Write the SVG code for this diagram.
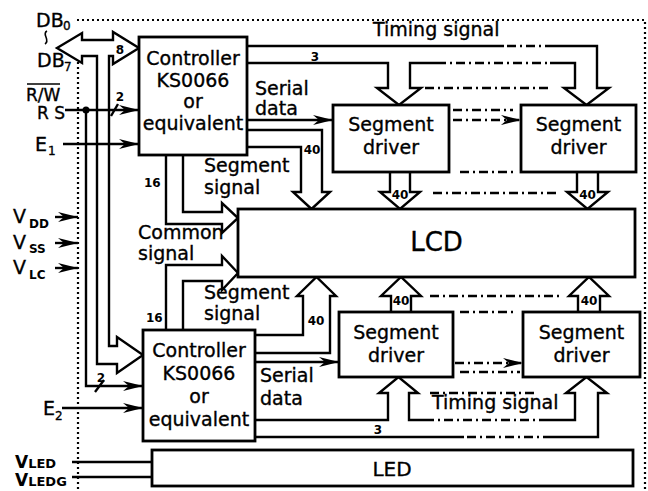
<svg xmlns="http://www.w3.org/2000/svg" width="648" height="491" viewBox="0 0 648 491">
<defs>
<style>
.box{fill:#fff;stroke:#000;stroke-width:2.8}
.ln{fill:none;stroke:#000;stroke-width:2.4}
.dd{fill:none;stroke:#000;stroke-width:2.4;stroke-dasharray:9 4 2 4}
.dot{fill:none;stroke:#000;stroke-width:2.2;stroke-dasharray:2 3}
text{font-family:"DejaVu Sans","Liberation Sans",sans-serif;font-size:19px;fill:#000;stroke:#000;stroke-width:0.35}
.c{text-anchor:middle}
.n{font-size:12px;font-weight:bold;stroke-width:0}
.s{font-size:12px}
</style>
<marker id="ah" viewBox="0 0 20 10" refX="20" refY="5" markerWidth="20" markerHeight="10" markerUnits="userSpaceOnUse" orient="auto"><path d="M0,0 L20,5 L0,10 L6,5 z" fill="#000"/></marker>
</defs>
<rect width="648" height="491" fill="#fff"/>
<g id="frame">
<path class="dot" d="M77,20 H645 V491"/>
<path class="dot" d="M78,62 V491"/>
</g>
<g id="connectors">
<path class="ln" d="M57,48 L82,33 V40 H113 V32 L139,48 L113,64 V56 H109 V346 H117 V337 L143,355 L117,373 V364 H97 V56 H82 V63 Z"/>
<path class="ln" d="M65,110 H139" marker-end="url(#ah)"/>
<circle cx="86" cy="110" r="3.5" fill="#000"/>
<path class="ln" d="M86,110 V386 H143" marker-end="url(#ah)"/>
<path class="ln" d="M111,116 L118,104"/>
<path class="ln" d="M95,392 L104,380"/>
<path class="ln" d="M63,144 H139" marker-end="url(#ah)"/>
<path class="ln" d="M62,408 H143" marker-end="url(#ah)"/>
<path class="ln" d="M55,217 H78" marker-end="url(#ah)"/>
<path class="ln" d="M55,243 H78" marker-end="url(#ah)"/>
<path class="ln" d="M55,268 H78" marker-end="url(#ah)"/>
<path class="ln" d="M72,462 H152"/>
<path class="ln" d="M72,477 H152"/>
<path class="ln" d="M247,46 H504"/>
<path class="dd" d="M507,46 H550"/>
<path class="ln" d="M550,46 H597 V88 H609 L586.5,105 L564,88 H575 V63 H550"/>
<path class="dd" d="M437,63 H550"/>
<path class="ln" d="M247,63 H388 V88 H377 L399,105 L421,88 H410 V63 H437"/>
<path class="dd" d="M425,88 H552"/>
<path class="ln" d="M247,120 H333" marker-end="url(#ah)"/>
<path class="dd" d="M453,110 H513"/>
<path class="dd" d="M453,120 H521" marker-end="url(#ah)"/>
<path class="dd" d="M460,172 H513"/>
<path class="ln" d="M247,130 H322 V192 H330 L311.5,209 L293,192 H301 V147 H247"/>
<path class="ln" d="M166,155 V224 H222 V233 L238,218 L222,203 V212 H183 V155"/>
<path class="ln" d="M390,172 V192 H380 L400,209 L420,192 H410 V172"/>
<path class="ln" d="M577,172 V192 H567 L587.5,209 L608,192 H598 V172"/>
<path class="dd" d="M433,193 H560"/>
<path class="ln" d="M166,330 V265 H222 V256 L238,273 L222,290 V281 H183 V330"/>
<path class="ln" d="M255,335 H303 V296 H297 L316.5,277 L336,296 H330 V353 H255"/>
<path class="ln" d="M391,312 V296 H381 L401,277 L421,296 H411 V312"/>
<path class="ln" d="M578,312 V296 H569 L589,277 L609,296 H600 V312"/>
<path class="dd" d="M430,296 H560"/>
<path class="dd" d="M460,312 H513"/>
<path class="ln" d="M255,362 H339" marker-end="url(#ah)"/>
<path class="dd" d="M455,363 H523" marker-end="url(#ah)"/>
<path class="dd" d="M460,372 H520"/>
<path class="ln" d="M255,420 H388 V393 H379 L398.5,377 L418,393 H409 V420 H425"/>
<path class="dd" d="M425,420 H548"/>
<path class="ln" d="M548,420 H575 V393 H566 L586.5,377 L607,393 H598 V437 H550"/>
<path class="dd" d="M467,437 H550"/>
<path class="ln" d="M255,437 H464"/>
<path class="dd" d="M430,393 H535"/>
</g>
<g id="ctrl1">
<rect class="box" x="139" y="37" width="108" height="118"/>
<text class="c" x="193" y="65">Controller</text>
<text class="c" x="193" y="87">KS0066</text>
<text class="c" x="193" y="108">or</text>
<text class="c" x="193" y="130">equivalent</text>
</g>
<g id="ctrl2">
<rect class="box" x="143" y="330" width="112" height="111"/>
<text class="c" x="199" y="357">Controller</text>
<text class="c" x="199" y="380">KS0066</text>
<text class="c" x="199" y="403">or</text>
<text class="c" x="199" y="426">equivalent</text>
</g>
<g id="seg1">
<rect class="box" x="333" y="105" width="116" height="67"/>
<text class="c" x="391" y="131">Segment</text>
<text class="c" x="391" y="154">driver</text>
</g>
<g id="seg2">
<rect class="box" x="521" y="105" width="115" height="67"/>
<text class="c" x="578.5" y="131">Segment</text>
<text class="c" x="578.5" y="154">driver</text>
</g>
<g id="seg3">
<rect class="box" x="339" y="312" width="114" height="65"/>
<text class="c" x="396" y="339">Segment</text>
<text class="c" x="396" y="362">driver</text>
</g>
<g id="seg4">
<rect class="box" x="523" y="312" width="117" height="65"/>
<text class="c" x="581.5" y="339">Segment</text>
<text class="c" x="581.5" y="362">driver</text>
</g>
<g id="lcd">
<rect class="box" x="238" y="209" width="397" height="68"/>
<text class="c" x="436.5" y="251" style="font-size:26px">LCD</text>
</g>
<g id="led">
<rect class="box" x="152" y="450" width="481" height="36"/>
<text class="c" x="392" y="476" style="font-size:20px">LED</text>
</g>
<g id="labels">
<text x="36" y="27">DB</text><text class="s" x="63" y="30">0</text>
<path d="M47,31 C41,34 51,40 45,44" fill="none" stroke="#000" stroke-width="1.6"/>
<text x="37" y="67">DB</text><text class="s" x="64" y="71">7</text>
<text x="26" y="101" style="font-size:17px">R/W</text>
<path d="M27,84 H60" stroke="#000" stroke-width="1.6"/>
<text x="37" y="119" style="font-size:17px">R S</text>
<text x="35" y="151">E</text><text class="s" x="48" y="155">1</text>
<text x="43" y="415">E</text><text class="s" x="55" y="420">2</text>
<text x="13" y="223">V</text><text class="n" x="29" y="228">DD</text>
<text x="13" y="249">V</text><text class="n" x="29" y="253">SS</text>
<text x="13" y="274">V</text><text class="n" x="29" y="279">LC</text>
<text x="15" y="468" style="font-size:17px;font-weight:bold;stroke-width:0">V<tspan style="font-size:13px">LED</tspan></text>
<text x="15" y="486" style="font-size:17px;font-weight:bold;stroke-width:0">V<tspan style="font-size:13px">LEDG</tspan></text>
<text class="n c" x="120" y="54">8</text>
<text class="n c" x="120" y="101">2</text>
<text class="n c" x="101" y="382">2</text>
<text class="n c" x="315" y="61">3</text>
<text class="n c" x="378" y="434">3</text>
<text class="n" x="144" y="187">16</text>
<text class="n" x="146" y="322">16</text>
<text class="n c" x="312" y="154">40</text>
<text class="n c" x="316" y="325">40</text>
<text class="n c" x="400" y="199">40</text>
<text class="n c" x="587.5" y="199">40</text>
<text class="n c" x="401" y="305">40</text>
<text class="n c" x="589" y="305">40</text>
<text x="373" y="36">Timing signal</text>
<text x="432" y="409">Timing signal</text>
<text x="255" y="95">Serial</text>
<text x="255" y="115">data</text>
<text x="260" y="382">Serial</text>
<text x="260" y="405">data</text>
<text x="204" y="172">Segment</text>
<text x="204" y="194">signal</text>
<text x="138" y="239">Common</text>
<text x="138" y="260">signal</text>
<text x="204" y="299">Segment</text>
<text x="204" y="320">signal</text>
</g>
</svg>
